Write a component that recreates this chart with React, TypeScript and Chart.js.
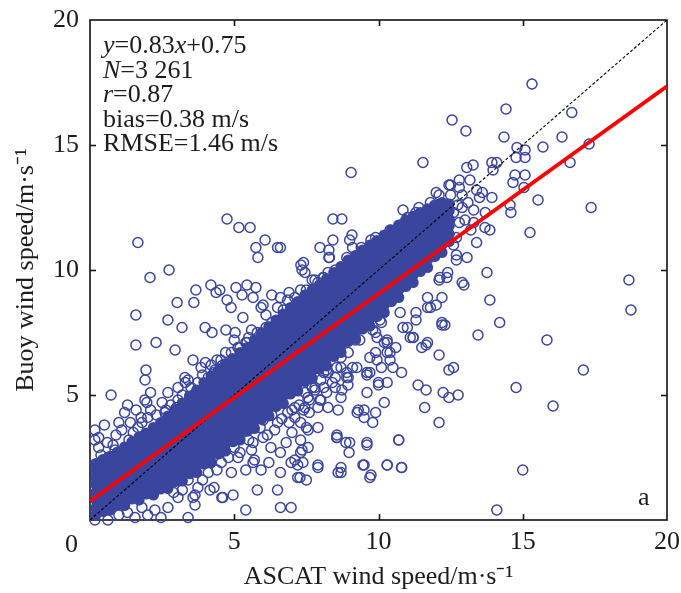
import React, { useEffect, useRef } from 'react';
import { Chart, registerables } from 'chart.js';

Chart.register(...registerables);

const FONT = "'Liberation Serif', 'Times New Roman', Times, serif";
const BLUE = 'rgb(58,70,158)';
const TEXT = '#1c1c1c';

// axis ticks
const tickValues = [0, 5, 10, 15, 20];
const innerTicks = [5, 10, 15];

// regression y = 0.83x + 0.75 and the 1:1 reference line
const regX = [0, 20];
const regY = [0.75, 17.35];
const oneX = [0, 20];
const oneY = [0, 20];

// dense core of the cloud: rows of [ASCAT, buoy, buoy, ...]
const coreA = [
  [0.2, 0.2, 0.48, 0.81, 1.1, 1.42, 1.7, 1.98, 2.26],
  [0.45, 0.34, 0.66, 0.93, 1.27, 1.55, 1.88, 2.14, 2.42],
  [0.7, 0.4, 0.72, 0.98, 1.31, 1.62, 1.9, 2.23, 2.55],
  [0.95, 0.6, 0.92, 1.24, 1.52, 1.86, 2.13, 2.44, 2.72],
  [1.2, 0.58, 0.9, 1.18, 1.52, 1.79, 2.1, 2.41, 2.68, 2.92],
  [1.45, 0.84, 1.13, 1.47, 1.74, 2.06, 2.33, 2.67, 2.94, 3.12],
  [1.7, 0.8, 1.12, 1.39, 1.72, 1.98, 2.31, 2.6, 2.92, 3.18, 3.32],
  [1.95, 1.04, 1.36, 1.63, 1.96, 2.24, 2.57, 2.84, 3.16, 3.48],
  [2.2, 1.0, 1.32, 1.58, 1.91, 2.19, 2.52, 2.78, 3.11, 3.42, 3.7],
  [2.45, 1.24, 1.54, 1.87, 2.13, 2.46, 2.74, 3.07, 3.33, 3.66, 3.9],
];
const coreB = [
  [2.7, 1.26, 1.57, 1.84, 2.17, 2.43, 2.77, 3.04, 3.37, 3.63, 3.96, 4.16],
  [2.95, 1.54, 1.86, 2.12, 2.47, 2.73, 3.06, 3.34, 3.66, 3.93, 4.24, 4.42],
  [3.2, 1.56, 1.83, 2.16, 2.44, 2.77, 3.03, 3.36, 3.64, 3.97, 4.23, 4.52, 4.68],
  [3.45, 1.85, 2.14, 2.46, 2.72, 3.07, 3.33, 3.67, 3.94, 4.26, 4.53, 4.82, 4.96],
  [3.7, 1.9, 2.22, 2.48, 2.81, 3.08, 3.42, 3.68, 4.02, 4.29, 4.61, 4.88, 5.2],
  [3.95, 2.24, 2.53, 2.86, 3.13, 3.47, 3.73, 4.07, 4.34, 4.66, 4.93, 5.26, 5.5],
  [4.2, 2.3, 2.62, 2.89, 3.22, 3.48, 3.82, 4.09, 4.42, 4.68, 5.02, 5.28, 5.6, 5.76],
  [4.45, 2.64, 2.93, 3.27, 3.53, 3.87, 4.13, 4.47, 4.74, 5.06, 5.33, 5.66, 5.98],
  [4.7, 2.76, 3.07, 3.34, 3.67, 3.93, 4.27, 4.54, 4.87, 5.13, 5.47, 5.74, 6.06, 6.26],
  [4.95, 3.13, 3.44, 3.72, 4.06, 4.32, 4.66, 4.93, 5.26, 5.52, 5.86, 6.13, 6.46],
];
const coreC = [
  [5.2, 3.2, 3.52, 3.78, 4.12, 4.38, 4.72, 4.98, 5.32, 5.58, 5.92, 6.18, 6.5, 6.7],
  [5.45, 3.55, 3.84, 4.17, 4.44, 4.77, 5.04, 5.37, 5.64, 5.96, 6.23, 6.56, 6.9],
  [5.7, 3.66, 3.97, 4.24, 4.57, 4.84, 5.17, 5.43, 5.77, 6.04, 6.37, 6.63, 6.96, 7.2],
  [5.95, 4.04, 4.33, 4.66, 4.93, 5.27, 5.53, 5.87, 6.13, 6.46, 6.73, 7.06, 7.32, 7.5],
  [6.2, 4.16, 4.47, 4.74, 5.07, 5.34, 5.67, 5.93, 6.27, 6.53, 6.87, 7.13, 7.46, 7.74],
  [6.45, 4.54, 4.84, 5.16, 5.43, 5.77, 6.03, 6.37, 6.64, 6.96, 7.23, 7.56, 7.82, 8.0],
  [6.7, 4.66, 4.97, 5.24, 5.57, 5.83, 6.17, 6.44, 6.77, 7.03, 7.37, 7.63, 7.96, 8.24],
  [6.95, 5.04, 5.33, 5.66, 5.93, 6.27, 6.53, 6.86, 7.13, 7.46, 7.73, 8.06, 8.32, 8.5],
  [7.2, 5.16, 5.47, 5.74, 6.07, 6.34, 6.67, 6.93, 7.27, 7.53, 7.86, 8.13, 8.46, 8.74],
  [7.45, 5.54, 5.83, 6.16, 6.43, 6.77, 7.03, 7.36, 7.63, 7.96, 8.23, 8.56, 8.82, 9.0],
];
const coreD = [
  [7.7, 5.66, 5.97, 6.24, 6.57, 6.83, 7.17, 7.44, 7.77, 8.03, 8.37, 8.63, 8.96, 9.2],
  [7.95, 6.04, 6.33, 6.66, 6.93, 7.27, 7.53, 7.86, 8.13, 8.46, 8.73, 9.06, 9.4],
  [8.2, 6.16, 6.47, 6.74, 7.07, 7.34, 7.67, 7.93, 8.27, 8.53, 8.87, 9.13, 9.46, 9.64],
  [8.45, 6.54, 6.83, 7.16, 7.43, 7.77, 8.03, 8.36, 8.63, 8.96, 9.23, 9.56, 9.9],
  [8.7, 6.7, 7.0, 7.27, 7.6, 7.87, 8.2, 8.47, 8.8, 9.06, 9.4, 9.66, 9.98, 10.14],
  [8.95, 7.14, 7.43, 7.76, 8.03, 8.37, 8.63, 8.96, 9.23, 9.56, 9.83, 10.16, 10.4],
  [9.2, 7.26, 7.57, 7.84, 8.17, 8.43, 8.77, 9.04, 9.37, 9.63, 9.97, 10.23, 10.58],
  [9.45, 7.64, 7.93, 8.26, 8.53, 8.87, 9.13, 9.46, 9.73, 10.06, 10.33, 10.64, 10.8],
  [9.7, 7.76, 8.07, 8.34, 8.67, 8.94, 9.27, 9.53, 9.87, 10.13, 10.47, 10.73, 11.0],
  [9.95, 8.14, 8.43, 8.76, 9.03, 9.37, 9.63, 9.96, 10.23, 10.56, 10.83, 11.18],
];
const coreE = [
  [10.2, 8.3, 8.6, 8.87, 9.2, 9.47, 9.8, 10.06, 10.4, 10.66, 11.0, 11.26, 11.4],
  [10.45, 8.74, 9.03, 9.36, 9.63, 9.97, 10.23, 10.56, 10.83, 11.16, 11.43, 11.6],
  [10.7, 8.9, 9.2, 9.47, 9.8, 10.07, 10.4, 10.66, 11.0, 11.26, 11.6, 11.8],
  [10.95, 9.34, 9.63, 9.96, 10.23, 10.57, 10.83, 11.16, 11.43, 11.76, 12.0],
  [11.2, 9.5, 9.8, 10.07, 10.4, 10.67, 11.0, 11.26, 11.6, 11.86, 12.15],
  [11.45, 9.94, 10.23, 10.56, 10.83, 11.17, 11.43, 11.76, 12.03, 12.3],
  [11.7, 10.1, 10.4, 10.67, 11.0, 11.27, 11.6, 11.86, 12.2, 12.45],
  [11.95, 10.54, 10.83, 11.16, 11.43, 11.77, 12.03, 12.36, 12.6],
  [12.2, 10.7, 11.0, 11.27, 11.6, 11.87, 12.2, 12.46, 12.7],
  [12.45, 11.14, 11.43, 11.76, 12.03, 12.37, 12.64],
];

// circles fringing the core, above it
const haloUpper = [
  [0.17, 3.6], [0.17, 3.2], [0.38, 2.6], [0.62, 2.5], [0.87, 2.8], [1.35, 3.2], [1.66, 3.7], [1.77, 4.1],
  [2.1, 4.4], [2.7, 5.1], [3.05, 4.8], [2.95, 4.1], [3.74, 5.5], [4.1, 5.7], [4.33, 6.0], [4.54, 6.4],
  [4.9, 6.7], [5.13, 6.9], [4.0, 6.3], [3.3, 5.5], [1.97, 4.7], [2.63, 4.4], [3.33, 4.4], [1.9, 4.8],
  [2.1, 5.1], [3.05, 5.3], [3.4, 5.6], [3.85, 6.1], [4.4, 6.4], [4.7, 6.7], [5.4, 7.1], [5.9, 7.3],
  [6.3, 7.9], [6.5, 8.5], [6.85, 8.8], [7.3, 9.2], [7.8, 9.6], [8.25, 9.9], [8.85, 10.1], [9.2, 10.4],
  [9.7, 10.8], [10.2, 11.1], [7.4, 10.3], [7.35, 10.0], [7.7, 9.6], [8.1, 9.7], [8.3, 10.5], [9.0, 11.2],
  [10.3, 11.2], [10.6, 11.6], [11.0, 12.1], [10.85, 12.4], [11.4, 12.5], [12.0, 13.1], [12.5, 13.4],
  [12.8, 13.3], [6.9, 9.1], [6.6, 8.9], [9.1, 10.9], [10.0, 10.8], [0.3, 2.9], [0.6, 3.1], [0.9, 3.4],
  [0.5, 3.8], [1.1, 3.6], [1.4, 3.9], [2.3, 4.2], [2.5, 4.7], [1.6, 4.4], [1.2, 4.3], [2.8, 4.6],
  [3.6, 5.0], [4.2, 6.2], [5.0, 7.2], [5.6, 7.6], [6.1, 8.2], [6.0, 8.6], [6.3, 9.0],
  [0.3, 3.3], [0.8, 3.0], [1.0, 3.9], [1.3, 4.6], [1.5, 3.5], [1.8, 3.9], [2.0, 4.1], [2.6, 4.3],
  [3.0, 4.5], [3.2, 5.0], [3.5, 5.3], [3.9, 5.8], [4.3, 5.9], [4.6, 6.2], [5.2, 6.9], [5.5, 7.3],
  [5.8, 7.5], [6.1, 7.7], [6.7, 8.4], [7.1, 8.9], [7.5, 9.2], [7.9, 9.5], [8.5, 10.0], [8.9, 10.5],
  [9.4, 10.9], [9.9, 11.3], [10.4, 11.6], [10.9, 11.9], [11.3, 12.3], [11.8, 12.7],
];

// circles fringing the core, below it
const haloLower = [
  [5.0, 2.9], [5.5, 3.2], [5.9, 3.7], [6.4, 3.6], [6.9, 3.9], [7.1, 4.1], [7.45, 4.5], [7.55, 4.9],
  [7.8, 5.2], [4.55, 2.3], [4.1, 1.9], [3.74, 1.3], [3.4, 1.6], [4.3, 1.3], [4.9, 1.9], [5.4, 2.0],
  [5.7, 2.4], [6.2, 2.3], [6.6, 2.7], [7.1, 2.4], [7.3, 3.2], [3.05, 0.9], [2.7, 0.5], [2.25, 0.4],
  [11.3, 8.0], [11.8, 8.5], [12.2, 8.9], [12.1, 9.6], [11.1, 7.3], [10.6, 6.9], [10.85, 7.7], [10.3, 7.2],
  [10.4, 6.4], [9.7, 6.5], [9.95, 7.3], [11.5, 6.9], [12.2, 7.9], [12.6, 6.1], [11.7, 8.9], [12.7, 10.4],
  [12.9, 9.5], [12.4, 9.9], [9.1, 6.1], [8.55, 6.1], [9.6, 5.9], [8.9, 5.7], [8.1, 5.9], [10.1, 8.3],
  [10.1, 7.9], [9.9, 7.5], [9.2, 7.2], [8.95, 6.7], [8.7, 6.1], [8.25, 5.9], [8.0, 5.6], [7.8, 5.3],
  [7.45, 5.1], [7.1, 4.5], [6.85, 4.3], [8.95, 5.7], [8.5, 5.3], [8.7, 4.9], [8.25, 4.5], [9.6, 5.1],
  [10.0, 5.5], [9.5, 4.4], [8.0, 4.8], [8.6, 4.4], [9.3, 4.4], [9.5, 4.1], [7.4, 4.4], [7.5, 3.7],
  [7.0, 3.5], [6.8, 3.1], [7.3, 2.7], [7.2, 2.2], [8.55, 3.3], [9.0, 3.1], [8.7, 2.1], [9.5, 2.2],
  [9.7, 1.7], [10.3, 2.2], [10.8, 2.1], [10.7, 3.2], [9.6, 3.1], [9.95, 6.4], [10.4, 6.7], [10.3, 7.1],
  [11.2, 7.3], [11.7, 7.1], [11.0, 7.7], [11.3, 8.3], [11.7, 8.5], [12.0, 8.6], [12.2, 7.8], [9.25, 6.1],
  [8.9, 5.9], [8.4, 5.5], [7.7, 5.3], [8.2, 6.0], [8.7, 6.5], [9.35, 7.2], [9.8, 7.6], [10.05, 8.0],
  [10.75, 8.3], [9.7, 5.9], [6.0, 4.0], [6.3, 4.2], [6.15, 3.4], [6.65, 4.05], [7.25, 4.6], [7.6, 4.3],
  [7.9, 4.5], [8.2, 5.1], [8.5, 5.7], [3.64, 1.0], [3.64, 0.6], [3.4, 0.1], [2.46, 0.1], [1.56, 0.1],
  [0.62, 0.0], [0.17, 0.0], [4.6, 0.9], [4.96, 1.0], [5.4, 0.4], [5.8, 1.2], [6.5, 1.2], [6.6, 0.5],
  [6.97, 0.5], [4.16, 1.2], [5.93, 2.0], [6.6, 1.9], [7.2, 1.7], [7.38, 2.3], [6.97, 2.3], [6.27, 2.9],
  [5.65, 2.3], [5.13, 2.5], [5.65, 3.1], [7.56, 2.9], [7.56, 3.6], [7.3, 3.9], [7.9, 2.1], [8.6, 1.9],
  [8.56, 3.3], [7.28, 1.7], [7.5, 1.6], [3.57, 0.9], [4.57, 0.9],
  [1.0, 0.2], [1.3, 0.3], [1.8, 0.5], [2.0, 0.2], [2.9, 1.1], [3.2, 1.2], [3.9, 1.6], [4.4, 2.0],
  [4.8, 2.5], [5.2, 2.7], [5.6, 2.8], [6.0, 3.3], [6.5, 3.9], [7.0, 4.4], [7.6, 4.8], [8.1, 5.3],
];

// high-wind end of the cloud
const tail = [
  [12.7, 11.3], [12.8, 11.9], [12.9, 12.5], [13.0, 12.0], [13.1, 12.7], [12.75, 12.6], [13.2, 11.6],
  [12.6, 12.3], [13.3, 12.4], [13.5, 12.9], [13.6, 13.1], [13.4, 13.2], [12.9, 13.0], [12.5, 13.0],
  [13.7, 12.3], [12.8, 13.6], [13.07, 10.5], [12.7, 10.6], [12.4, 11.5], [12.6, 11.0], [13.3, 11.9],
];

// isolated circles
const scatterLeft = [
  [4.75, 12.04], [5.16, 11.7], [5.55, 11.7], [1.66, 11.1], [6.07, 11.2], [5.75, 10.9], [5.82, 10.5],
  [6.5, 10.9], [8.42, 12.04], [8.73, 12.04], [7.97, 10.9], [8.42, 11.2], [8.28, 10.8], [8.28, 10.5],
  [9.08, 11.4], [9.74, 11.2], [7.31, 10.2], [7.45, 9.9], [8.08, 9.7], [2.74, 10.0], [2.08, 9.7],
  [1.59, 8.2], [2.7, 8.0], [3.19, 7.7], [3.02, 8.7], [3.6, 8.7], [3.67, 9.2], [4.19, 9.4], [4.37, 9.1],
  [4.5, 9.2], [5.06, 9.3], [5.44, 9.4], [5.75, 9.3], [5.27, 9.0], [5.65, 8.9], [4.75, 8.8], [4.89, 8.5],
  [3.99, 7.7], [4.23, 7.5], [4.71, 7.6], [5.03, 7.5], [5.3, 8.1], [5.93, 8.5], [2.29, 7.1], [1.59, 7.0],
  [2.95, 6.8], [3.57, 6.4], [1.94, 6.0], [1.91, 5.6], [0.73, 5.0], [3.29, 5.7], [5.44, 7.1], [6.6, 10.9],
];
const scatterRight = [
  [15.32, 17.44], [14.42, 16.44], [12.55, 16.0], [13.03, 15.56], [14.35, 15.32], [16.7, 16.3],
  [16.36, 15.32], [17.3, 15.04], [15.7, 14.92], [14.8, 14.9], [15.08, 14.8], [14.77, 14.5], [15.08, 14.5],
  [16.64, 14.3], [9.05, 13.9], [11.54, 14.3], [13.06, 14.1], [13.28, 14.2], [13.93, 14.3], [14.1, 14.3],
  [13.97, 14.0], [14.73, 13.8], [15.08, 13.8], [14.66, 13.5], [15.04, 13.3], [13.17, 13.6], [12.44, 13.4],
  [12.1, 13.0], [13.93, 12.9], [15.53, 12.8], [17.37, 12.5], [14.56, 12.6], [14.59, 12.3], [15.25, 11.5],
  [13.69, 11.7], [13.86, 11.6], [13.4, 11.1], [13.76, 9.9], [12.96, 9.4], [13.86, 8.8], [18.68, 9.6],
  [18.75, 8.4], [12.37, 9.7], [12.13, 9.7], [14.2, 7.9], [13.45, 7.4], [12.3, 7.8], [11.65, 7.0],
  [12.1, 6.6], [12.44, 6.0], [14.77, 5.3], [11.37, 5.4], [11.65, 5.2], [12.24, 5.1], [12.76, 5.0],
  [12.44, 4.9], [11.6, 4.5], [12.1, 3.9], [10.7, 3.2], [9.6, 3.0], [8.98, 2.7], [8.56, 3.4], [8.87, 3.1],
  [7.9, 3.7], [7.35, 2.8], [7.9, 2.2], [9.46, 2.2], [10.3, 2.2], [10.8, 2.1], [8.7, 1.9], [9.74, 1.8],
  [15.0, 2.0], [10.2, 4.7], [9.9, 4.3], [9.26, 4.3], [9.8, 3.9], [10.8, 5.9], [10.5, 6.1], [10.1, 6.1],
  [9.6, 5.8], [10.0, 5.4], [10.3, 5.5], [10.2, 7.1], [10.3, 6.7], [9.9, 6.7], [7.97, 4.8], [8.94, 5.4],
  [8.73, 5.2], [16.05, 4.56], [14.1, 0.4], [15.84, 7.2], [17.1, 6.0], [11.2, 7.3],
];

// annotation text: [text, italic]
const statLines: [string, boolean][][] = [
  [['y', true], ['=0.83', false], ['x', true], ['+0.75', false]],
  [['N', true], ['=3 261', false]],
  [['r', true], ['=0.87', false]],
  [['bias=0.38 m/s', false]],
  [['RMSE=1.46 m/s', false]],
];
const panelLabel = 'a';
const xTitle = 'ASCAT wind speed/m·s⁻¹';
const yTitle = 'Buoy wind speed/m·s⁻¹';

const rowsToPoints = (rows: number[][]) =>
  rows.flatMap((r) => r.slice(1).map((y) => ({ x: r[0], y })));
const pairsToPoints = (pairs: number[][]) => pairs.map(([x, y]) => ({ x, y }));

const zeroPadding = (s: any) => {
  s.paddingTop = 0;
  s.paddingBottom = 0;
  s.paddingLeft = 0;
  s.paddingRight = 0;
};

const decorPlugin = {
  id: 'decor',
  beforeDatasetsDraw(chart: any) {
    const { ctx, chartArea: a, scales } = chart;
    ctx.save();
    ctx.strokeStyle = '#111';
    ctx.lineWidth = 1.6;
    ctx.strokeRect(a.left, a.top, a.right - a.left, a.bottom - a.top);
    ctx.beginPath();
    for (const v of innerTicks) {
      const px = Math.round(scales.x.getPixelForValue(v)) + 0.5;
      ctx.moveTo(px, a.bottom);
      ctx.lineTo(px, a.bottom - 6);
      ctx.moveTo(px, a.top);
      ctx.lineTo(px, a.top + 6);
      const py = Math.round(scales.y.getPixelForValue(v)) + 0.5;
      ctx.moveTo(a.left, py);
      ctx.lineTo(a.left + 6, py);
      ctx.moveTo(a.right, py);
      ctx.lineTo(a.right - 6, py);
    }
    ctx.stroke();
    ctx.restore();
  },
  afterDraw(chart: any) {
    const { ctx, chartArea: a } = chart;
    ctx.save();
    ctx.fillStyle = TEXT;
    ctx.textBaseline = 'alphabetic';
    ctx.textAlign = 'left';
    statLines.forEach((segs, i) => {
      let x = a.left + 13;
      const y = a.top + 33 + i * 24.5;
      for (const [t, it] of segs) {
        ctx.font = `${it ? 'italic ' : ''}26px ${FONT}`;
        ctx.fillText(t, x, y);
        x += ctx.measureText(t).width;
      }
    });
    ctx.font = `26px ${FONT}`;
    ctx.fillText(panelLabel, a.right - 29, a.bottom - 15);
    ctx.textAlign = 'right';
    ctx.textBaseline = 'middle';
    ctx.fillText('0', a.left - 12, a.bottom + 25);
    ctx.restore();
  },
};

export default function App() {
  const ref = useRef<HTMLCanvasElement | null>(null);

  useEffect(() => {
    const canvas = ref.current;
    if (!canvas) return;
    Chart.defaults.font.family = FONT;
    Chart.defaults.color = TEXT;

    const core = [...rowsToPoints(coreA), ...rowsToPoints(coreB), ...rowsToPoints(coreC), ...rowsToPoints(coreD), ...rowsToPoints(coreE)];
    const rings = [
      ...pairsToPoints(haloUpper),
      ...pairsToPoints(haloLower),
      ...pairsToPoints(tail),
      ...pairsToPoints(scatterLeft),
      ...pairsToPoints(scatterRight),
    ];

    const chart = new Chart(canvas, {
      type: 'scatter',
      data: {
        datasets: [
          {
            type: 'line',
            data: regX.map((x, i) => ({ x, y: regY[i] })),
            borderColor: '#ff0000',
            borderWidth: 4,
            pointRadius: 0,
            order: 0,
            clip: false,
          } as any,
          {
            type: 'line',
            data: oneX.map((x, i) => ({ x, y: oneY[i] })),
            borderColor: '#000000',
            borderWidth: 1.1,
            borderDash: [3, 2],
            pointRadius: 0,
            order: 1,
          } as any,
          {
            data: rings,
            pointRadius: 5,
            pointBorderWidth: 1.5,
            borderColor: BLUE,
            backgroundColor: 'rgba(0,0,0,0)',
            pointBackgroundColor: 'rgba(0,0,0,0)',
            pointBorderColor: BLUE,
            order: 2,
            clip: false,
          } as any,
          {
            data: core,
            pointRadius: 5.6,
            pointBorderWidth: 0,
            pointBackgroundColor: BLUE,
            pointBorderColor: BLUE,
            backgroundColor: BLUE,
            borderColor: BLUE,
            order: 3,
            clip: false,
          } as any,
        ],
      },
      options: {
        animation: false,
        responsive: false,
        devicePixelRatio: 1,
        events: [],
        layout: { padding: { left: 0, right: 14, top: 20, bottom: 0 } },
        plugins: { legend: { display: false }, tooltip: { enabled: false } },
        scales: {
          x: {
            type: 'linear',
            min: 0,
            max: 20,
            afterFit: (s: any) => {
              s.height = 73;
              zeroPadding(s);
            },
            afterBuildTicks: (s: any) => {
              s.ticks = tickValues.map((v) => ({ value: v }));
            },
            grid: { display: false, drawTicks: false },
            border: { display: false },
            ticks: {
              padding: 7,
              font: { size: 26, family: FONT },
              color: TEXT,
              maxRotation: 0,
              autoSkip: false,
              callback: (v: any) => (v === 0 ? '' : String(v)),
            },
            title: {
              display: true,
              text: xTitle,
              font: { size: 26, family: FONT },
              color: TEXT,
              padding: { top: 0, bottom: 0 },
            },
          },
          y: {
            type: 'linear',
            min: 0,
            max: 20,
            afterFit: (s: any) => {
              s.width = 90;
              zeroPadding(s);
            },
            afterBuildTicks: (s: any) => {
              s.ticks = tickValues.map((v) => ({ value: v }));
            },
            grid: { display: false, drawTicks: false },
            border: { display: false },
            ticks: {
              padding: 11,
              font: { size: 26, family: FONT },
              color: TEXT,
              autoSkip: false,
              callback: (v: any) => (v === 0 ? '' : String(v)),
            },
            title: {
              display: true,
              text: yTitle,
              font: { size: 26, family: FONT },
              color: TEXT,
              padding: { top: 11, bottom: 0 },
            },
          },
        },
      },
      plugins: [decorPlugin],
    } as any);

    return () => chart.destroy();
  }, []);

  return (
    <div style={{ position: 'fixed', left: 0, top: 0, width: 681, height: 593, background: '#fff' }}>
      <canvas ref={ref} width={681} height={593} style={{ width: 681, height: 593, display: 'block' }} />
    </div>
  );
}
